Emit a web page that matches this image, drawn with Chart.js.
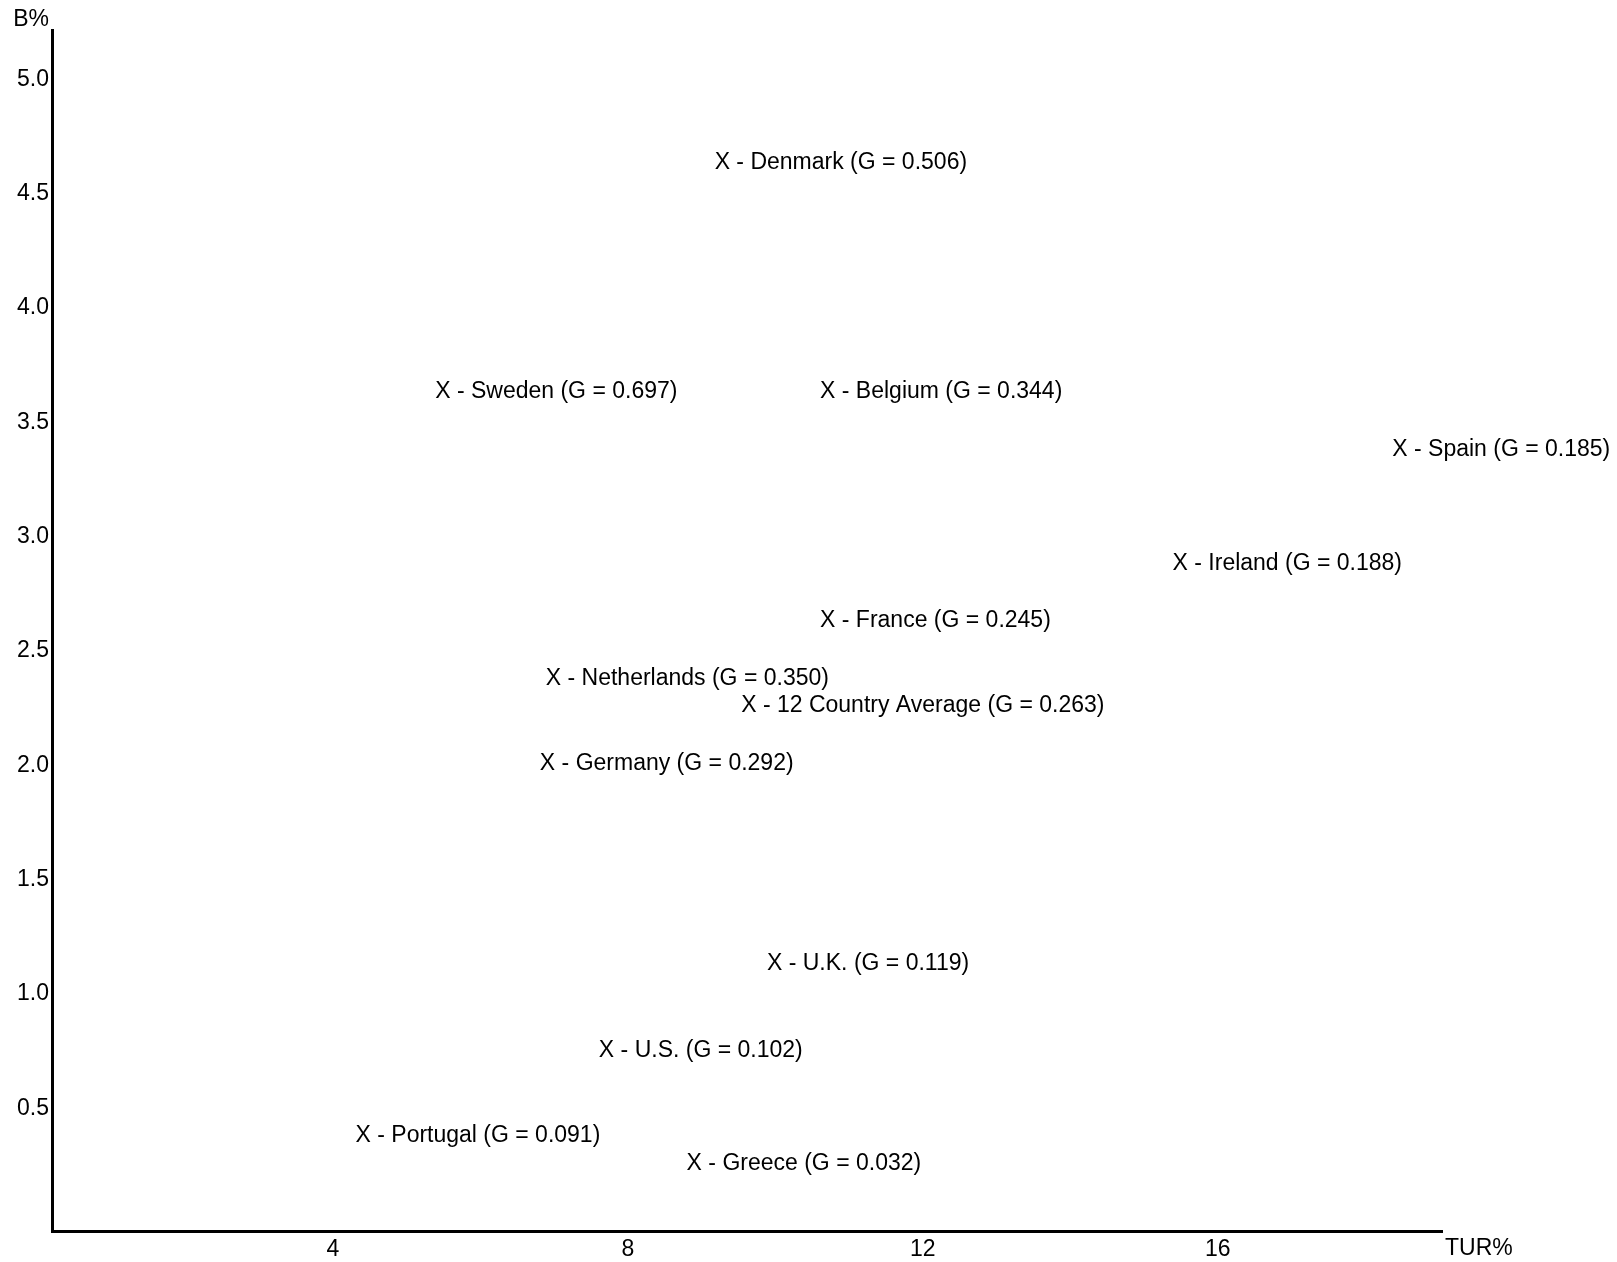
<!DOCTYPE html>
<html>
<head>
<meta charset="utf-8">
<script src="https://cdn.jsdelivr.net/npm/chart.js@4.4.1/dist/chart.umd.min.js"></script>
<style>
  html, body { margin: 0; padding: 0; background: #fff; }
  #wrap { position: relative; width: 1617px; height: 1262px; }
</style>
</head>
<body>
<div id="wrap"><canvas id="c"></canvas></div>
<script>
const countries = ['Denmark', 'Sweden', 'Belgium', 'Spain', 'Ireland', 'France', 'Netherlands',
  '12 Country Average', 'Germany', 'U.K.', 'U.S.', 'Portugal', 'Greece'];
const gValues = ['0.506', '0.697', '0.344', '0.185', '0.188', '0.245', '0.350',
  '0.263', '0.292', '0.119', '0.102', '0.091', '0.032'];
const turValues = [9.28, 5.49, 10.71, 18.47, 15.49, 10.71, 6.99, 9.64, 6.91, 9.99, 7.71, 4.41, 8.90];
const bValues = [4.635, 3.635, 3.635, 3.378, 2.882, 2.63, 2.378, 2.26, 2.005, 1.133, 0.752, 0.378, 0.257];
const xTicks = [4, 8, 12, 16];
const yTicks = [0.5, 1.0, 1.5, 2.0, 2.5, 3.0, 3.5, 4.0, 4.5, 5.0];
const xTitle = 'TUR%';
const yTitle = 'B%';

const FONT = '"Liberation Sans", Arial, Helvetica, sans-serif';
const FSIZE = 23;

Chart.defaults.font.family = FONT;
Chart.defaults.font.size = FSIZE;
Chart.defaults.color = '#000';

const points = turValues.map((x, i) => ({ x: x, y: bValues[i] }));
const labels = countries.map((c, i) => 'X - ' + c + ' (G = ' + gValues[i] + ')');

const labelPlugin = {
  id: 'labelPlugin',
  afterDatasetsDraw(chart) {
    const ctx = chart.ctx;
    const xs = chart.scales.x, ys = chart.scales.y;
    ctx.save();
    ctx.font = FSIZE + 'px ' + FONT;
    ctx.fillStyle = '#000';
    ctx.textBaseline = 'middle';
    ctx.textAlign = 'left';
    const half = ctx.measureText('X').width / 2;
    chart.data.datasets[0].data.forEach((p, i) => {
      const px = xs.getPixelForValue(p.x);
      const py = ys.getPixelForValue(p.y);
      ctx.fillText(labels[i], px - half, py);
    });
    // axis titles
    const area = chart.chartArea;
    ctx.textAlign = 'right';
    ctx.fillText(yTitle, area.left - 3, 20);
    ctx.textAlign = 'left';
    ctx.fillText(xTitle, area.right + 3, 1249);
    ctx.restore();
  }
};

new Chart(document.getElementById('c'), {
  type: 'scatter',
  data: {
    datasets: [{
      data: points,
      pointRadius: 0,
      pointHoverRadius: 0,
      showLine: false
    }]
  },
  options: {
    responsive: true,
    maintainAspectRatio: false,
    animation: false,
    events: [],
    layout: { padding: { left: 0, right: 175, top: 30, bottom: 0 } },
    plugins: { legend: { display: false }, tooltip: { enabled: false } },
    scales: {
      x: {
        type: 'linear',
        min: 0.19,
        max: 19.04,
        afterBuildTicks: (s) => { s.ticks = xTicks.map(v => ({ value: v })); },
        afterFit: (s) => { s.height = 31; },
        grid: { display: false, drawTicks: false },
        border: { display: true, color: '#000', width: 3 },
        ticks: { padding: 5, color: '#000', font: { size: FSIZE }, callback: (v) => String(v), maxRotation: 0, autoSkip: false }
      },
      y: {
        type: 'linear',
        min: -0.037,
        max: 5.215,
        afterBuildTicks: (s) => { s.ticks = yTicks.map(v => ({ value: v })); },
        afterFit: (s) => { s.width = 52; },
        grid: { display: false, drawTicks: false },
        border: { display: true, color: '#000', width: 3 },
        ticks: { padding: 3, color: '#000', font: { size: FSIZE }, callback: (v) => Number(v).toFixed(1), autoSkip: false }
      }
    }
  },
  plugins: [labelPlugin]
});
</script>
</body>
</html>
